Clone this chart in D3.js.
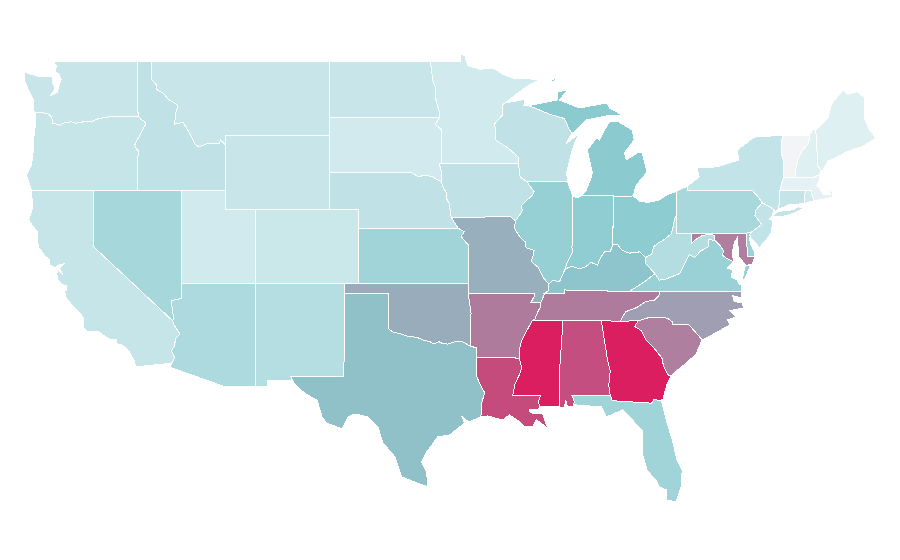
<!DOCTYPE html>
<html>
<head>
<meta charset="utf-8">
<script src="https://cdn.jsdelivr.net/npm/d3@7"></script>
<style>
  html, body { margin: 0; background: #fff; }
</style>
</head>
<body>
<svg id="map" width="900" height="560"></svg>
<script>
// state values (same order in both lists)
const stateNames = ["WA","OR","CA","NV","ID","MT","WY","UT","CO","AZ","NM","ND","SD","NE","KS","OK","TX","MN","IA","MO","AR","LA","WI","IL","MI","IN","OH","KY","TN","MS","AL","GA","FL","SC","NC","VA","WV","MD","DE","PA","NJ","NY","CT","RI","MA","VT","NH","ME"];
const stateValues = [21,22,22,37,25,21,21,17,20,34,30,21,16,25,40,59,53,17,25,58,73,87,25,45,50,48,49,52,73,100,86,100,40,72,63,43,31,72,43,36,24,24,23,17,7,0,10,10];

// colour stops for the values
const colorDomain = [0, 10, 50, 100];
const colorRange = ["#f3f4f6", "#dff0f3", "#8bcbd0", "#da1e60"];

// shared borders, [lon, lat]
const WA_COAST = [[-122.76,49],[-122.5,48.75],[-122.6,48.4],[-122.35,48.3],[-122.2,48],[-122.35,47.6],[-122.45,47.3],[-122.9,47.15],[-122.6,47.5],[-122.75,47.8],[-122.75,48.15],[-123.1,48.15],[-123.7,48.17],[-124.65,48.38],[-124.65,47.9],[-124.35,47.35],[-124.1,46.95],[-124.05,46.3],[-123.95,46.25]];
const COLUMBIA = [[-123.95,46.25],[-123.4,46.2],[-123.15,46.18],[-122.9,46.05],[-122.8,45.85],[-122.75,45.65],[-122.3,45.55],[-121.95,45.68],[-121.5,45.72],[-121.2,45.65],[-120.7,45.72],[-120.2,45.72],[-119.6,45.92],[-119.1,45.95],[-118.98,46],[-116.92,46]];
const SNAKE = [[-116.92,46],[-116.78,45.85],[-116.55,45.75],[-116.46,45.6],[-116.67,45.3],[-116.85,45],[-117.05,44.75],[-117.22,44.45],[-117.05,44.23],[-116.93,44.15],[-116.98,43.9],[-117.03,43.8],[-117.03,42]];
const OR_COAST = [[-124.2,42],[-124.55,42.85],[-124.2,43.4],[-124.1,44],[-124.05,44.8],[-123.95,45.5],[-123.95,46.25]];
const ID_MT = [[-116.05,49],[-116.05,48],[-115.72,47.7],[-115.7,47.45],[-115.25,47.25],[-114.95,46.95],[-114.35,46.65],[-114.32,46.45],[-114.45,46.15],[-114.5,45.6],[-113.95,45.7],[-113.8,45.52],[-113.45,45.05],[-113.1,44.5],[-112.85,44.37],[-112.3,44.55],[-111.5,44.55],[-111.4,44.75],[-111.05,44.48]];
const CA_COAST = [[-124.2,42],[-124.2,41.75],[-124.1,41.4],[-124.15,41],[-124.4,40.45],[-124.1,40.1],[-123.8,39.8],[-123.8,39.3],[-123.7,38.95],[-123.35,38.55],[-123,38.3],[-122.95,38],[-122.55,37.85],[-122.4,38],[-122,38.08],[-122.3,37.85],[-122.1,37.5],[-122.4,37.75],[-122.5,37.55],[-122.4,37.2],[-122.1,36.95],[-121.85,36.9],[-121.8,36.65],[-121.95,36.6],[-121.9,36.3],[-121.3,35.7],[-120.9,35.4],[-120.65,35.15],[-120.65,34.6],[-120.45,34.45],[-119.6,34.4],[-119.2,34.15],[-118.8,34],[-118.45,34],[-118.4,33.75],[-118.1,33.72],[-117.6,33.4],[-117.25,32.85],[-117.12,32.53]];
const COLORADO = [[-114.63,35],[-114.57,34.8],[-114.15,34.3],[-114.4,34.1],[-114.55,33.6],[-114.72,33.4],[-114.5,33],[-114.72,32.72]];
const RIO = [[-106.53,31.78],[-106.2,31.45],[-105.6,31.05],[-104.86,30.74],[-104.52,29.83],[-104.2,29.5],[-103.17,29.18],[-102.77,29.83],[-102.29,29.99],[-101.41,29.83],[-100.74,29.29],[-100.4,28.43],[-99.59,27.68],[-99.12,26.6],[-98.1,26.28],[-97.36,26.06]];
const TX_COAST = [[-97.36,26.06],[-97.43,26.81],[-97.77,27.4],[-97.43,27.94],[-96.69,28.75],[-95.87,28.86],[-94.86,29.5],[-95.06,29.85],[-94.8,29.7],[-94.6,29.55],[-93.78,29.83]];
const TX_LA = [[-94.04,33.02],[-94.04,32],[-93.8,31.55],[-93.55,31.2],[-93.55,31],[-93.7,30.6],[-93.7,30.1],[-93.78,29.83]];
const RED = [[-94.48,33.64],[-95,33.88],[-95.5,33.88],[-96,33.75],[-96.4,33.8],[-96.6,33.88],[-97,33.75],[-97.2,33.88],[-97.7,33.98],[-98.1,34.12],[-98.6,34.15],[-99.2,34.3],[-99.7,34.4],[-100,34.56]];
const NE_SD = [[-104.05,43],[-98.5,43],[-98,42.77],[-97.5,42.85],[-97,42.75],[-96.7,42.6],[-96.45,42.5]];
const NE_IA = [[-96.45,42.5],[-96.35,42.25],[-96.1,41.9],[-96.1,41.6],[-95.9,41.3],[-95.85,41],[-95.77,40.58]];
const NE_MO = [[-95.77,40.58],[-95.31,40]];
const KS_MO = [[-94.62,37],[-94.62,39.1],[-94.9,39.35],[-95.1,39.55],[-94.88,39.8],[-95.31,40]];
const ND_MN = [[-97.23,49],[-97.1,48.6],[-97.05,48],[-96.85,47.6],[-96.8,46.9],[-96.6,46.3],[-96.56,45.94]];
const SD_MN = [[-96.56,45.94],[-96.85,45.6],[-96.45,45.3],[-96.45,43.5]];
const SD_IA = [[-96.45,43.5],[-96.6,43.5],[-96.45,43.1],[-96.45,42.5]];
const MN_NORTH = [[-97.23,49],[-95.15,49],[-95.15,49.38],[-94.85,49.3],[-94.65,48.75],[-93.8,48.55],[-93.4,48.6],[-92.9,48.6],[-92.3,48.3],[-91.5,48.05],[-90.8,48.05],[-89.75,48],[-90.5,47.7],[-91.3,47.25],[-92.1,46.75]];
const MN_WI = [[-92.1,46.75],[-92.29,46.65],[-92.29,46.1],[-92.85,45.6],[-92.75,45.3],[-92.77,44.75],[-92.2,44.45],[-91.9,44.3],[-91.25,43.85],[-91.22,43.5]];
const IA_WI = [[-91.22,43.5],[-91.1,42.75],[-90.65,42.5]];
const IA_IL = [[-90.65,42.5],[-90.15,41.95],[-90.3,41.75],[-91.05,41.2],[-90.95,40.95],[-91.1,40.75],[-91.42,40.38]];
const IA_MO = [[-91.42,40.38],[-91.73,40.61],[-95.77,40.58]];
const MO_IL = [[-91.42,40.38],[-91.5,40],[-91.1,39.5],[-90.75,39.25],[-90.7,38.95],[-90.15,38.8],[-90.2,38.6],[-90.35,38.2],[-89.9,37.9],[-89.5,37.3],[-89.15,36.98]];
const MO_KY = [[-89.15,36.98],[-89.2,36.62],[-89.42,36.5]];
const MO_TN = [[-89.42,36.5],[-89.7,36]];
const MO_AR = [[-89.7,36],[-90.37,36],[-90.1,36.4],[-90.15,36.5],[-94.62,36.5]];
const AR_TN = [[-89.7,36],[-89.7,35.8],[-89.9,35.5],[-90.1,35.1],[-90.3,35]];
const AR_MS = [[-90.3,35],[-90.6,34.55],[-91,33.95],[-91.15,33.5],[-91.17,33]];
const LA_MS = [[-91.17,33],[-91,32.5],[-91.1,32.2],[-91.45,31.6],[-91.6,31],[-89.73,31],[-89.85,30.65],[-89.8,30.37]];
const LA_COAST = [[-89.8,30.37],[-89.85,30.2],[-90.5,30.25],[-90.4,30.05],[-89.9,30],[-89.59,30.04],[-89.25,29.24],[-90,29.67],[-90.27,29.29],[-90.81,29.29],[-91.2,29.6],[-91.82,29.94],[-92.29,29.67],[-93.31,29.88],[-93.78,29.83]];
const MS_COAST = [[-89.8,30.37],[-89,30.38],[-88.45,30.37]];
const MS_AL = [[-88.45,30.37],[-88.47,31.9],[-88.2,35]];
const AL_COAST = [[-88.45,30.37],[-88.15,30.32],[-88,30.7],[-87.9,30.4],[-87.52,30.4]];
const AL_FL = [[-87.6,31],[-87.43,30.65],[-87.52,30.4]];
const GA_AL = [[-85,31],[-85.1,31.55],[-85,32.3],[-85.18,32.87],[-85.6,35]];
const GA_FL = [[-81.45,30.72],[-82.05,30.75],[-82.2,30.57],[-84.86,30.7]];
const GA_COAST = [[-80.87,32.03],[-81.15,31.6],[-81.3,31.2],[-81.45,30.72]];
const SAVANNAH = [[-83.11,35],[-83.35,34.7],[-82.9,34.48],[-82.6,34],[-82,33.5],[-81.5,33],[-81.4,32.6],[-81.1,32.1],[-80.87,32.03]];
const SC_COAST = [[-80.87,32.03],[-80.45,32.35],[-79.9,32.7],[-79.2,33.2],[-78.78,33.98]];
const NC_SC = [[-78.78,33.98],[-79.67,34.8],[-80.8,34.82],[-80.78,34.95],[-81.05,35.1],[-81.05,35.15],[-82.3,35.2],[-83.11,35]];
const NC_COAST = [[-76.08,36.6],[-76.08,36.24],[-76.7,36.35],[-76.6,36.05],[-76.08,35.97],[-75.94,35.7],[-76.9,35.55],[-76.5,35.21],[-77.05,35.05],[-76.9,34.78],[-78.1,34.25],[-78.78,33.98]];
const TN_NC = [[-81.68,36.59],[-81.7,36.35],[-82.05,36.1],[-82.6,36.05],[-83.2,35.72],[-83.95,35.5],[-84.32,34.99]];
const KY_TN = [[-89.42,36.5],[-88.07,36.5],[-88.07,36.68],[-87.85,36.63],[-83.68,36.6]];
const OHIO_W = [[-88.05,37.8],[-88.45,37.1],[-88.9,37.2],[-89.15,36.98]];
const IN_KY = [[-88.05,37.8],[-87.6,37.95],[-87.1,37.8],[-86.7,37.9],[-86.3,38.15],[-85.85,38],[-85.75,38.27],[-85.4,38.72],[-85,38.75],[-84.82,39.1]];
const OH_KY = [[-84.82,39.1],[-84.5,39.1],[-84.2,38.8],[-83.7,38.65],[-83,38.72],[-82.6,38.42]];
const KY_WV = [[-82.6,38.42],[-82.6,38.1],[-81.97,37.54]];
const KY_VA = [[-81.97,37.54],[-82.7,37.1],[-83.68,36.6]];
const IL_IN = [[-87.53,41.72],[-87.53,39.35],[-87.6,39],[-87.55,38.7],[-87.95,38.1],[-88.05,37.8]];
const WV_OH = [[-82.6,38.42],[-82.2,38.6],[-82.05,39],[-81.75,39.2],[-81.4,39.35],[-80.85,39.7],[-80.6,40.6],[-80.52,40.64]];
const WV_MD = [[-79.48,39.72],[-79.48,39.2],[-79.1,39.45],[-78.75,39.6],[-78.4,39.65],[-78.2,39.68],[-77.95,39.6],[-77.9,39.32]];
const WV_VA = [[-77.9,39.32],[-78.35,39.4],[-78.35,39],[-78.87,38.77],[-79.3,38.42],[-79.65,38.58],[-80.3,37.55],[-81.25,37.25],[-81.68,37.2],[-81.97,37.54]];
const POTOMAC = [[-76.62,38.18],[-77.16,38.39],[-77.43,38.55],[-77.3,38.75],[-77.6,39.1],[-77.9,39.32]];
const VA_COAST = [[-76.62,38.18],[-77.1,37.85],[-76.7,37.75],[-76.8,37.37],[-76.41,37.2],[-76.3,37],[-76.08,36.9],[-76.08,36.6]];
const OH_LAKE = [[-83.45,41.73],[-83,41.45],[-82.5,41.38],[-81.7,41.5],[-81.25,41.76],[-80.52,41.98]];
const WI_MI = [[-90.42,46.57],[-89.1,46.13],[-88.1,45.9],[-87.8,45.35],[-87.6,45.1]];
const PA_NY = [[-75.35,42],[-75.05,41.75],[-74.7,41.36]];
const PA_NJ = [[-74.7,41.36],[-75.13,40.98],[-75.2,40.68],[-74.75,40.2],[-75.4,39.8]];
const NJ_NY = [[-74.7,41.36],[-73.9,41]];
const NY_VT = [[-73.34,45],[-73.4,44.5],[-73.4,44],[-73.25,43.6],[-73.27,42.75]];
const VT_NH = [[-71.5,45.01],[-71.55,44.6],[-72.05,44.1],[-72.3,43.7],[-72.45,43.1],[-72.46,42.73]];
const NH_ME = [[-71.08,45.3],[-71,44.3],[-70.97,43.4],[-70.72,43.08]];

const rev = a => a.slice().reverse();

// rings of each state, built from the borders above
const ringWA = [[[-117.04,49],[-117.04,46.42]], rev(COLUMBIA), rev(WA_COAST)];
const ringOR = [COLUMBIA, SNAKE, OR_COAST];
const ringCA = [[[-124.2,42],[-120,42],[-120,39]], COLORADO, [[-117.12,32.53]], rev(CA_COAST)];
const ringNV = [[[-120,42],[-114.04,42],[-114.05,36.2],[-114.75,36.1],[-114.57,35.15],[-114.63,35],[-120,39]]];
const ringID = [[[-117.04,49]], ID_MT, [[-111.05,42],[-114.04,42]], rev(SNAKE), [[-117.04,46.42]]];
const ringMT = [[[-104.05,49],[-104.05,45],[-111.05,45]], rev(ID_MT)];
const ringWY = [[[-111.05,45],[-104.05,45],[-104.05,41],[-111.05,41]]];
const ringUT = [[[-114.04,42],[-111.05,42],[-111.05,41],[-109.05,41],[-109.05,37],[-114.05,37]]];
const ringCO = [[[-109.05,41],[-102.05,41],[-102.05,37],[-109.05,37]]];
const ringAZ = [[[-114.05,37],[-109.05,37],[-109.05,31.45],[-111.07,31.45],[-114.81,32.5]], rev(COLORADO), [[-114.57,35.15],[-114.75,36.1],[-114.05,36.2]]];
const ringNM = [[[-109.05,37],[-103,37],[-103,36.5],[-103.04,32],[-106.62,32],[-106.53,31.78],[-108.21,31.78],[-108.21,31.45],[-109.05,31.45]]];
const ringND = [[[-104.05,49]], ND_MN, [[-104.05,45.94]]];
const ringSD = [[[-104.05,45.94]], SD_MN, SD_IA, rev(NE_SD)];
const ringNE = [NE_SD, NE_IA, NE_MO, [[-102.05,40],[-102.05,41],[-104.05,41]]];
const ringKS = [[[-102.05,40]], rev(KS_MO), [[-102.05,37]]];
const ringOK = [[[-103,37],[-94.62,37],[-94.62,36.5],[-94.43,35.4]], RED, [[-100,36.5],[-103,36.5]]];
const ringTX = [[[-106.62,32],[-103.04,32],[-103,36.5],[-100,36.5]], rev(RED), [[-94.04,33.55]], TX_LA, rev(TX_COAST), rev(RIO)];
const ringMN = [MN_NORTH, MN_WI, rev(SD_MN), rev(ND_MN)];
const ringIA = [[[-96.45,43.5]], [[-91.22,43.5]], IA_WI, IA_IL, IA_MO, rev(NE_IA), rev(SD_IA)];
const ringMO = [rev(IA_MO), MO_IL, MO_KY, MO_TN, MO_AR, KS_MO, rev(NE_MO)];
const ringAR = [rev(MO_AR), AR_TN, AR_MS, [[-94.04,33.02],[-94.04,33.55],[-94.48,33.64],[-94.43,35.4]]];
const ringLA = [[[-94.04,33.02]], LA_MS, LA_COAST, rev(TX_LA)];
const ringWI = [[[-92.1,46.75],[-91.2,46.87],[-90.75,46.95],[-90.85,46.6]], WI_MI, [[-88,44.55],[-87.4,44.9],[-87.05,45.25],[-87.5,44.4],[-87.8,43.5],[-87.95,43],[-87.9,42.49],[-90.65,42.5]], rev(IA_WI), rev(MN_WI)];
const ringIL = [[[-90.65,42.5],[-87.9,42.49]], IL_IN, OHIO_W, rev(MO_IL), rev(IA_IL)];
const ringIN = [[[-87.53,41.72],[-87.2,41.62],[-86.95,41.76],[-84.8,41.76],[-84.82,39.1]], rev(IN_KY), rev(IL_IN)];
const ringOH = [[[-84.8,41.7]], OH_LAKE, [[-80.52,40.64]], rev(WV_OH), rev(OH_KY)];
const ringKY = [rev(OHIO_W), IN_KY, OH_KY, KY_WV, KY_VA, rev(KY_TN), rev(MO_KY)];
const ringTN = [KY_TN, TN_NC, [[-85.6,35],[-88.2,35]], rev(AR_TN), rev(MO_TN)];
const ringMS = [[[-90.3,35],[-88.2,35]], rev(MS_AL), rev(MS_COAST), rev(LA_MS), rev(AR_MS)];
const ringAL = [[[-88.2,35],[-85.6,35]], rev(GA_AL), AL_FL, rev(AL_COAST), MS_AL];
const ringGA = [[[-85.6,35],[-84.32,34.99]], SAVANNAH, GA_COAST, GA_FL, GA_AL];
const ringFL = [[[-87.6,31],[-85,31],[-84.86,30.7]], rev(GA_FL), [[-81.55,30.75],[-81.21,29.67],[-80.81,28.6],[-80.47,27.5],[-80.13,26.95],[-80.2,26.06],[-80.54,25.25],[-81.21,25.36],[-81.21,25.9],[-81.68,26.06],[-81.89,26.4],[-82.5,26.95],[-82.83,27.87],[-82.83,29.1],[-83.51,29.67],[-84.18,30.2],[-85.27,29.83],[-85.6,30.37],[-87.43,30.48]], rev(AL_FL)];
const ringSC = [[[-83.11,35]], rev(NC_SC), rev(SC_COAST), rev(SAVANNAH)];
const ringNC = [[[-81.68,36.59]], NC_COAST, NC_SC, [[-84.32,34.99]], rev(TN_NC)];
const ringVA = [rev(WV_VA), rev(POTOMAC), VA_COAST, [[-81.68,36.59],[-83.68,36.6]], rev(KY_VA)];
const ringVAshore = [[[-75.5,38],[-75.85,38],[-76.1,37.1],[-75.85,37.3]]];
const ringWV = [WV_OH, [[-80.52,39.72]], WV_MD, WV_VA, rev(KY_WV)];
const ringMD = [[[-79.48,39.72],[-75.79,39.72],[-75.7,38.46],[-75.2,38.45],[-75.4,38.03],[-75.8,38],[-76.3,38.45],[-76.35,39.1],[-76.35,39.55],[-76.6,39.2],[-76.75,38.66]], POTOMAC, rev(WV_MD)];
const ringDE = [[[-75.4,39.8],[-75.58,39.45],[-75.45,39.05],[-75.25,38.78],[-75.2,38.45],[-75.7,38.46],[-75.79,39.72]]];
const ringPA = [[[-80.52,41.98],[-79.76,42.27],[-79.76,42]], PA_NY, PA_NJ, [[-75.79,39.72],[-80.52,39.72]]];
const ringNJ = [NJ_NY, [[-74.05,40.65],[-74.25,40.5],[-73.98,40.4],[-74.1,39.75],[-74.4,39.4],[-74.9,38.95],[-75.15,39.2],[-75.5,39.5],[-75.55,39.65]], rev(PA_NJ)];
const ringNY = [[[-79.76,42.27],[-78.98,42.76],[-79.12,43.24],[-77.77,43.3],[-76.28,43.67],[-76.41,44.2],[-75.26,44.9]], NY_VT, [[-73.5,42.05],[-73.55,41.3],[-73.65,41],[-73.92,40.85]], rev(NJ_NY), rev(PA_NY), [[-79.76,42]]];
const ringLI = [[[-74.03,40.6],[-73.75,40.85],[-73.2,40.95],[-72.6,40.98],[-72.3,41.15],[-71.87,41.07],[-72.5,40.82],[-73.3,40.63]]];
const ringCT = [[[-73.5,42.05],[-71.8,42.02],[-71.85,41.32],[-72.9,41.25],[-73.65,41],[-73.55,41.3]]];
const ringRI = [[[-71.8,42.02],[-71.38,42.02],[-71.38,41.9],[-71.2,41.48],[-71.85,41.32]]];
const ringMA = [[[-73.27,42.75],[-72.46,42.73],[-71.3,42.7],[-70.85,42.87],[-70.8,42.6],[-71,42.3],[-70.65,41.95],[-70.55,41.8],[-70.05,41.8],[-70.25,42.07],[-69.95,41.95],[-69.98,41.65],[-70.65,41.55],[-71.2,41.48],[-71.38,41.9],[-71.38,42.02],[-71.8,42.02],[-73.5,42.05]]];
const ringVT = [rev(NY_VT), VT_NH];
const ringNH = [[[-71.5,45.01],[-71.3,45.3]], NH_ME, [[-70.85,42.87],[-71.3,42.7]], rev(VT_NH)];
const ringME = [[[-70.4,45.8],[-70.25,45.95],[-70,46.7],[-69.22,47.45],[-68.9,47.2],[-68.3,47.35],[-67.8,47.07],[-67.78,45.9],[-67.45,45.3],[-67,44.85],[-67.9,44.4],[-68.5,44.25],[-69,44.1],[-69.8,43.75],[-70.25,43.6],[-70.6,43.1]], rev(NH_ME)];
const ringMIlow = [[[-86.95,41.76],[-84.8,41.76],[-84.8,41.7],[-83.45,41.73],[-83.24,42.32],[-82.5,43.02],[-82.83,44.05],[-83.17,44.05],[-83.91,43.67],[-84.05,44.05],[-83.37,44.75],[-83.51,45.28],[-84.5,45.75],[-85.06,45.71],[-85.4,45.28],[-85.74,44.75],[-85.94,44.85],[-86.55,44.2],[-86.21,42.97],[-86.28,42.75],[-86.62,42.05]]];
const ringMIup = [WI_MI, [[-87.3,45.28],[-86.62,45.82],[-84.93,46.09],[-84.19,46.09],[-85.06,46.47],[-85.2,46.74],[-87.09,46.47],[-88.44,46.9],[-87.9,47.44],[-88.58,47.33],[-88.58,46.9],[-90.33,46.63]]];
const ringMIisle = [[[-89.2,47.88],[-88.5,48.17],[-88.8,47.9]]];

// Order follows stateNames, a state with islands has more than one ring
const stateRings = [[ringWA],[ringOR],[ringCA],[ringNV],[ringID],[ringMT],[ringWY],[ringUT],[ringCO],[ringAZ],[ringNM],[ringND],[ringSD],[ringNE],[ringKS],[ringOK],[ringTX],[ringMN],[ringIA],[ringMO],[ringAR],[ringLA],[ringWI],[ringIL],[ringMIlow,ringMIup,ringMIisle],[ringIN],[ringOH],[ringKY],[ringTN],[ringMS],[ringAL],[ringGA],[ringFL],[ringSC],[ringNC],[ringVA,ringVAshore],[ringWV],[ringMD],[ringDE],[ringPA],[ringNJ],[ringNY,ringLI],[ringCT],[ringRI],[ringMA],[ringVT],[ringNH],[ringME]];

// the map is a plain lon/lat grid, x and y stretched differently
const x = d3.scaleLinear().domain([-104.05, -67]).range([329, 876]);
const y = d3.scaleLinear().domain([49, 26]).range([61, 488]);
const color = d3.scaleLinear().domain(colorDomain).range(colorRange);

const path = d3.geoPath(d3.geoTransform({
  point: function (lon, lat) { this.stream.point(x(lon), y(lat)); }
}));

const states = stateNames.map((name, i) => ({
  type: "Feature",
  properties: { name: name, value: stateValues[i] },
  geometry: {
    type: "MultiPolygon",
    coordinates: stateRings[i].map(parts => {
      const ring = parts.flat();
      return [ring.concat([ring[0]])];
    })
  }
}));

d3.select("#map").selectAll("path")
  .data(states)
  .join("path")
  .attr("d", path)
  .attr("fill", d => color(d.properties.value))
  .attr("stroke", "#fff")
  .attr("stroke-width", 1)
  .attr("shape-rendering", "crispEdges");
</script>
</body>
</html>
